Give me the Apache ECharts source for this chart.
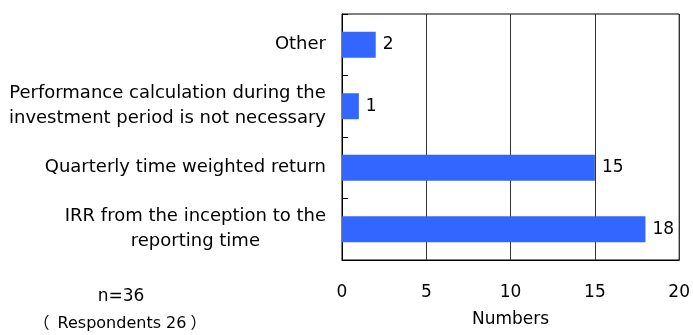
<!DOCTYPE html>
<html><head><meta charset="utf-8">
<script src="https://cdn.jsdelivr.net/npm/echarts@6/dist/echarts.min.js"></script>
<style>html,body{margin:0;padding:0;background:#fff}#c{width:693px;height:335px}</style>
</head><body><div id="c"></div>
<script>
const categories = [
  "Other",
  "Performance calculation during the\ninvestment period is not necessary",
  "Quarterly time weighted return",
  "IRR from the inception to the\nreporting time"
];
const values = [2, 1, 15, 18];
const xTicks = [0, 5, 10, 15, 20];
const noteLines = ["n=36", "Respondents 26"];
const FONT = "'DejaVu Sans', 'Noto Sans CJK JP', sans-serif";
const chart = echarts.init(document.getElementById('c'));
chart.setOption({
  animation: false,
  textStyle: {fontFamily: FONT},
  grid: {left: 342, right: 12, top: 14, bottom: 75, show: true, borderColor: '#000', borderWidth: 1},
  xAxis: {
    type: 'value', min: xTicks[0], max: xTicks[xTicks.length-1], interval: 5,
    axisLine: {show: true, lineStyle: {color: '#000'}},
    axisTick: {show: false},
    splitLine: {show: true, lineStyle: {color: '#333', width: 1}},
    axisLabel: {color: '#000', fontSize: 17, margin: 24, fontFamily: FONT},
    name: 'Numbers', nameLocation: 'middle', nameGap: 51,
    nameTextStyle: {color: '#000', fontSize: 17, fontFamily: FONT}
  },
  yAxis: {
    type: 'category', data: categories, inverse: true,
    axisLine: {show: true, lineStyle: {color: '#000'}},
    axisTick: {show: true, inside: true, length: 6, lineStyle: {color: '#000'}},
    axisLabel: {
      color: '#000', fontSize: 18, margin: 16, lineHeight: 25, align: 'right', fontFamily: FONT,
      formatter: function (v) { return v.split('\n').map(function (l) { return '{c|' + l + '}'; }).join('\n'); },
      rich: {c: {align: 'center', fontSize: 18, lineHeight: 25, color: '#000', fontFamily: FONT}}
    }
  },
  series: [{
    type: 'bar', data: values, barWidth: 26,
    itemStyle: {color: '#3366FF'},
    label: {show: true, position: 'right', distance: 7, color: '#000', fontSize: 17, fontFamily: FONT}
  }],
  graphic: [
    {type: 'text', x: 121, y: 297, style: {text: noteLines[0], font: '17px ' + FONT, fill: '#000', align: 'center', verticalAlign: 'middle'}},
    {type: 'text', x: 120, y: 324, style: {
      text: '{a|（}{t|' + noteLines[1] + '}{b|）}', fill: '#000', align: 'center', verticalAlign: 'middle',
      rich: {
        a: {fontFamily: FONT, fontSize: 16, fill: '#000', padding: [0, 8, 0, 0]},
        t: {fontFamily: FONT, fontSize: 16, fill: '#000'},
        b: {fontFamily: FONT, fontSize: 16, fill: '#000', padding: [0, 0, 0, 4]}
      }
    }}
  ]
});
</script></body></html>
